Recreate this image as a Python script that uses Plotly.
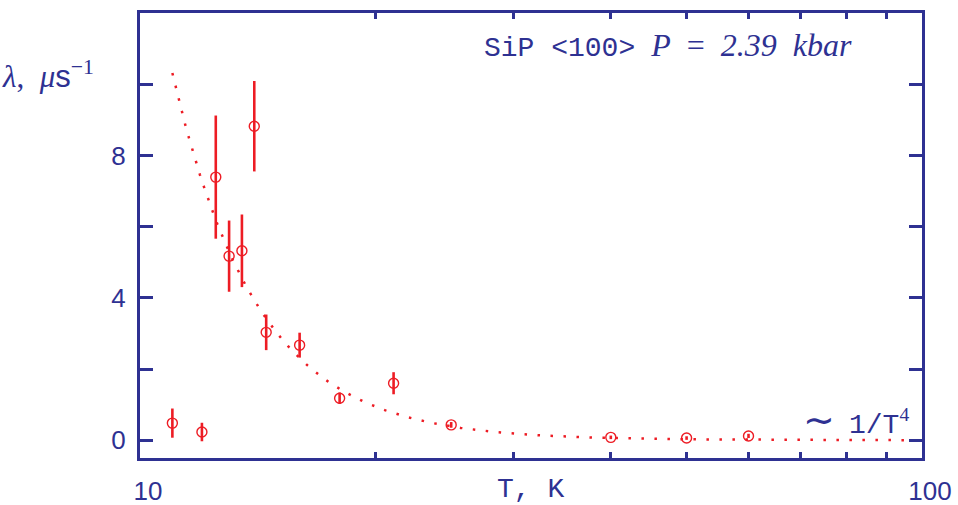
import numpy as np
import plotly.graph_objects as go

# Muon relaxation rate vs temperature, SiP <100>, P = 2.39 kbar
temperature_K = [11.0, 12.0, 12.5, 13.0, 13.5, 14.0, 14.5, 16.0, 18.0, 21.1, 25.0, 40.0, 50.0, 60.0]
lambda_us = [0.48, 0.23, 7.39, 5.17, 5.32, 8.82, 3.03, 2.67, 1.18, 1.60, 0.43, 0.08, 0.06, 0.12]
lambda_err = [0.41, 0.26, 1.73, 1.00, 1.02, 1.27, 0.50, 0.35, 0.16, 0.31, 0.08, 0.05, 0.05, 0.06]

# ~ A / T^4 model curve
fit_A = 1.51e5
fit_T_min, fit_T_max = 11.0, 100.0

y_tick_vals = [0, 2, 4, 6, 8, 10]
y_tick_text = ["0", "", "4", "", "8", ""]
x_tick_vals = [10, 20, 30, 40, 50, 60, 70, 80, 90, 100]
x_tick_text = ["10", "", "", "", "", "", "", "", "", "100"]

NAVY = "#2e3192"
RED = "#ed1c24"
W, H = 958, 505
L, R, T, B = 140, 36, 13, 47
PW, PH = W - L - R, H - T - B


def px_x(p):
    return (p - L) / PW


def px_y(p):
    return (H - B - p) / PH


T_fit = np.geomspace(fit_T_min, fit_T_max, 300)
lam_fit = fit_A / T_fit ** 4

fig = go.Figure()
fig.add_trace(go.Scatter(
    x=T_fit, y=lam_fit, mode="lines",
    line=dict(color=RED, width=2.5, dash="2.5px,10.5px"),
    hoverinfo="skip", showlegend=False,
))
fig.add_trace(go.Scatter(
    x=temperature_K, y=lambda_us, mode="markers",
    marker=dict(symbol="circle-open", size=10, color=RED, line=dict(width=1.4, color=RED)),
    error_y=dict(type="data", array=lambda_err, visible=True, color=RED, thickness=2.6, width=0),
    showlegend=False,
))

fig.update_xaxes(
    type="log", range=[1, 2], automargin=False,
    showline=True, linecolor=NAVY, linewidth=3, mirror="allticks",
    ticks="inside", ticklen=6, tickwidth=2.5, tickcolor=NAVY,
    tickvals=x_tick_vals, ticktext=x_tick_text,
    tickfont=dict(family="Liberation Sans", size=26, color=NAVY),
    ticklabelshift=8, ticklabelstandoff=8,
    showgrid=False, zeroline=False,
)
fig.update_yaxes(
    range=[-0.5, 12], automargin=False,
    showline=True, linecolor=NAVY, linewidth=3, mirror="allticks",
    ticks="inside", ticklen=13, tickwidth=2.5, tickcolor=NAVY,
    tickvals=y_tick_vals, ticktext=y_tick_text,
    tickfont=dict(family="Liberation Sans", size=26, color=NAVY),
    ticklabelstandoff=6,
    showgrid=False, zeroline=False,
)

annotations = [
    dict(text='<span style="font-family:Liberation Mono;font-size:28px">SiP &lt;100&gt;</span>  '
              '<i>P</i>  =  <i>2.39  kbar</i>',
         x=px_x(482), y=px_y(45), xanchor="left", yanchor="middle",
         font=dict(family="Liberation Serif", size=32, color=NAVY)),
    dict(text='<i>λ</i>,  <i>μ</i><span style="font-family:Liberation Sans">s</span><sup>−1</sup>',
         x=px_x(0), y=px_y(74), xanchor="left", yanchor="middle",
         font=dict(family="Liberation Serif", size=31, color=NAVY)),
    dict(text='<span style="font-size:38px">∼</span>  <span style="font-family:Liberation Mono">1/T</span><sup>4</sup>',
         x=px_x(801), y=px_y(420), xanchor="left", yanchor="middle",
         font=dict(family="Liberation Serif", size=28, color=NAVY)),
    dict(text="T, K",
         x=px_x(530), y=px_y(489), xanchor="center", yanchor="middle",
         font=dict(family="Liberation Mono", size=28, color=NAVY)),
]
for a in annotations:
    a.update(xref="paper", yref="paper", showarrow=False)

fig.update_layout(
    width=W, height=H,
    margin=dict(l=L, r=R, t=T, b=B, pad=0),
    paper_bgcolor="white", plot_bgcolor="white",
    annotations=annotations,
)

fig.write_html("out.html")
